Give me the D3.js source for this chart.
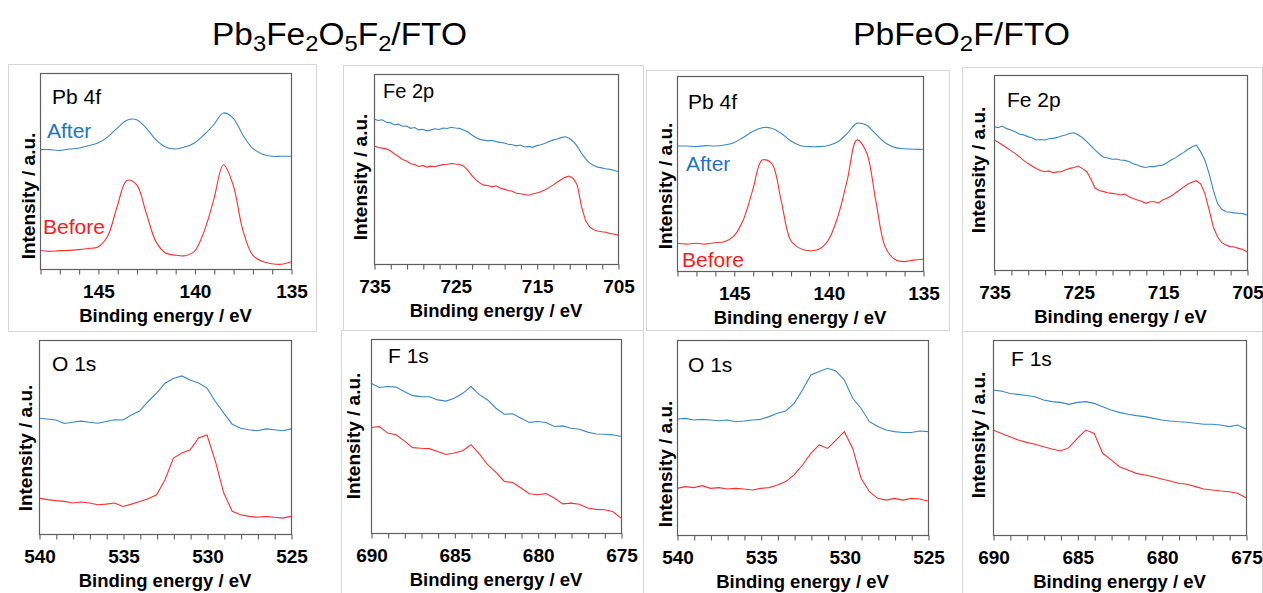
<!DOCTYPE html>
<html>
<head>
<meta charset="utf-8">
<script src="https://cdn.jsdelivr.net/npm/d3@7/dist/d3.min.js"></script>
<style>
  html, body { margin: 0; padding: 0; background: #ffffff; }
  svg { display: block; }
  text { font-family: "Liberation Sans", Arial, Helvetica, sans-serif; }
</style>
</head>
<body>
<svg id="chart" width="1263" height="593"></svg>
<script>
// ---------------- DATA ----------------
const energyPb = [148,147.5,147,146.5,146,145.5,145,144.5,144,143.5,143,142.5,142,141.5,141,140.5,140,139.5,139,138.5,138,137.5,137,136.5,136,135.5,135];
const energyFe = [735,734.5,734,733.5,733,732.5,732,731.5,731,730.5,730,729.5,729,728.5,728,727.5,727,726.5,726,725.5,725,724.5,724,723.5,723,722.5,722,721.5,721,720.5,720,719.5,719,718.5,718,717.5,717,716.5,716,715.5,715,714.5,714,713.5,713,712.5,712,711.5,711,710.5,710,709.5,709,708.5,708,707.5,707,706.5,706,705.5,705];
const energyO = [540,539.5,539,538.5,538,537.5,537,536.5,536,535.5,535,534.5,534,533.5,533,532.5,532,531.5,531,530.5,530,529.5,529,528.5,528,527.5,527,526.5,526,525.5,525];
const energyF = [690,689.5,689,688.5,688,687.5,687,686.5,686,685.5,685,684.5,684,683.5,683,682.5,682,681.5,681,680.5,680,679.5,679,678.5,678,677.5,677,676.5,676,675.5,675];

// Pb3Fe2O5F2/FTO (left)
const pbL_after  = [60.9,60.9,60.5,61.2,61.6,62.9,64.3,67.3,71.9,75.9,76.2,71.9,66.0,62.2,61.2,62.2,64.3,68.5,73.6,79.6,77.0,68.5,61.7,58.7,57.5,57.5,57.5];
const pbL_before = [9.4,9.0,9.4,9.5,9.9,10.5,11.2,16.7,32.0,45.2,43.0,28.6,14.1,8.2,7.1,6.8,9.0,19.2,35.4,53.2,43.0,20.1,7.3,3.9,2.7,2.4,3.7];
const feL_after  = [76.3,75.5,75.9,74.6,74.4,73.2,73.6,72.5,72.6,71.4,71.8,70.6,70.9,70.1,70.6,71.2,70.8,71.6,71.3,72.0,71.6,71.4,70.5,69.6,68.0,66.6,65.6,65.2,64.8,65.1,64.4,64.0,63.7,63.0,62.8,62.2,62.6,61.6,61.9,61.4,62.3,62.8,63.4,64.5,65.2,65.8,66.5,67.0,66.2,64.5,61.9,58.4,55.5,53.2,51.9,51.0,50.6,50.1,49.8,49.3,48.7];
const feL_before = [62.2,61.3,61.0,60.6,59.6,58.0,56.6,55.0,54.2,52.8,52.4,51.3,51.9,51.0,51.5,51.2,51.9,52.3,52.5,52.9,52.6,52.4,51.6,49.5,46.8,44.4,42.7,41.5,41.3,40.6,41.2,40.0,39.4,38.7,38.3,37.2,37.0,36.6,36.2,36.8,37.4,38.0,39.0,40.2,41.5,43.0,44.3,45.6,46.3,45.0,41.5,30.5,23.0,19.5,18.0,17.4,17.0,16.7,16.0,15.8,15.2];
const oL_after   = [59.7,59.3,58.8,57.0,57.6,58.2,57.6,57.1,58.0,58.9,58.8,61.3,63.5,68.3,72.6,77.7,80.2,81.5,79.4,77.8,75.2,68.3,62.3,56.6,54.5,53.7,53.2,54.2,53.7,53.2,54.2];
const oL_before  = [18.5,17.7,17.2,16.8,16.0,16.5,16.0,15.1,15.4,16.0,14.2,15.4,16.8,18.2,20.2,28.0,39.1,41.7,43.4,49.5,51.0,37.4,21.1,11.7,9.9,9.1,8.6,9.1,8.6,8.2,9.1];
const fL_after   = [77.2,75.0,75.5,75.2,72.9,70.8,70.3,70.2,68.6,68.0,69.5,72.0,75.5,71.3,68.6,64.3,61.2,61.5,59.2,57.0,57.5,57.0,54.9,55.2,54.0,53.5,52.0,51.0,50.9,50.6,49.7];
const fL_before  = [54.4,54.8,51.5,50.6,47.5,44.0,43.7,43.5,42.0,40.5,41.2,42.4,45.5,40.8,35.2,31.2,26.6,26.0,23.2,20.2,19.7,20.3,18.0,15.0,15.4,14.8,12.9,12.2,12.0,11.1,7.7];

// PbFeO2F/FTO (right)
const pbR_after  = [64.1,64.1,63.8,64.3,64.1,64.6,65.8,68.5,71.5,73.5,73.2,70.6,66.8,64.4,63.8,63.8,64.4,66.3,70.6,75.7,74.9,70.3,65.8,63.4,62.7,62.4,62.4];
const pbR_before = [14.2,13.8,14.2,13.8,14.5,15.0,17.9,26.2,41.5,56.9,55.2,36.4,15.9,11.6,10.4,11.1,15.9,27.9,46.7,67.2,61.2,36.4,12.5,6.0,4.8,5.6,6.0];
const feR_after  = [73.5,73.0,73.8,72.5,71.8,70.9,69.7,69.3,68.4,67.8,66.7,66.9,66.7,67.3,67.5,68.0,68.7,69.2,70.1,70.4,69.2,67.8,65.8,63.6,61.5,59.5,57.8,57.4,56.8,56.9,56.4,56.2,55.6,54.5,53.8,53.0,52.6,53.1,53.0,53.6,53.8,55.0,56.4,57.5,59.0,60.3,61.9,63.2,64.0,60.7,56.4,49.6,41.0,34.2,31.1,29.9,29.6,29.3,29.1,28.9,28.2];
const feR_before = [66.7,65.5,64.1,62.7,61.2,59.8,58.1,56.2,54.7,53.3,52.1,51.0,50.4,50.8,49.9,50.3,50.4,51.4,52.1,52.6,53.3,52.0,50.4,46.5,41.9,40.8,40.2,39.6,39.3,39.0,38.5,38.9,37.6,36.7,35.9,35.3,34.2,35.0,35.0,34.4,35.9,36.8,37.9,39.5,41.0,42.6,44.1,45.0,45.8,44.2,39.3,31.0,22.2,17.0,14.0,12.8,12.0,11.8,11.1,10.5,9.4];
const oR_after   = [59.5,59.8,59.0,59.3,59.0,58.6,59.0,58.1,58.5,59.0,59.3,60.7,62.4,63.6,67.5,74.4,82.1,83.8,85.5,84.1,79.5,70.1,65.0,58.1,55.6,53.8,53.0,52.6,52.6,53.3,53.0];
const oR_before  = [23.9,24.8,24.3,25.3,23.9,24.3,23.6,23.9,23.6,23.1,23.9,24.3,25.6,27.4,30.8,35.9,41.9,46.2,44.4,48.7,53.0,44.4,29.1,22.2,18.8,17.9,18.8,17.9,18.8,18.5,17.4];
const fR_after   = [74.4,73.8,72.6,72.1,71.5,70.9,69.2,68.4,68.0,67.0,68.0,68.4,67.5,65.8,64.1,62.9,61.9,61.2,60.7,59.8,59.0,58.5,58.1,57.8,57.3,56.8,56.8,56.4,55.6,56.4,54.4];
const fR_before  = [53.8,52.1,50.4,48.7,47.5,46.5,45.3,44.1,43.1,44.8,49.6,53.8,52.1,41.9,38.5,35.0,33.3,31.6,30.8,29.9,28.7,27.7,26.5,26.0,24.8,23.6,23.1,22.6,22.2,21.4,19.1];

// Tick values and labels
const ticksPbMinor = [148,147,146,145,144,143,142,141,140,139,138,137,136,135];
const ticksPbMajor = [145,140,135];
const ticksFeMinor = [735,733,731,729,727,725,723,721,719,717,715,713,711,709,707,705];
const ticksFeMajor = [735,725,715,705];
const ticksOMinor  = [540,539,538,537,536,535,534,533,532,531,530,529,528,527,526,525];
const ticksOMajor  = [540,535,530,525];
const ticksFMinor  = [690,689,688,687,686,685,684,683,682,681,680,679,678,677,676,675];
const ticksFMajor  = [690,685,680,675];

const panelNames = ["Pb 4f", "Fe 2p", "O 1s", "F 1s"];
const seriesNames = ["After", "Before"];
const xAxisTitle = "Binding energy / eV";
const yAxisTitle = "Intensity / a.u.";

// ---------------- STYLE / LAYOUT ----------------
const BLUE = "#3987cc";
const RED = "#ff3030";
const BLUE_TEXT = "#1f74c4";
const RED_TEXT = "#ff1a1a";

const svg = d3.select("#chart");

// light frames (slide picture borders)
const frames = [
  [8, 64, 316, 331],
  [343, 65, 643, 330],
  [646, 70, 949, 330],
  [962, 67, 1262, 331],
  [341, 330, 643, 593],
  [962, 331, 1262, 593]
];
svg.selectAll("rect.frame").data(frames).enter().append("rect")
  .attr("class", "frame")
  .attr("x", d => d[0] + 0.5).attr("y", d => d[1] + 0.5)
  .attr("width", d => d[2] - d[0]).attr("height", d => d[3] - d[1])
  .attr("fill", "none").attr("stroke", "#d6d6d6").attr("stroke-width", 1);

// Titles
function title(x, y, parts, len) {
  const t = svg.append("text").attr("x", x).attr("y", y)
    .attr("font-size", 31).attr("fill", "#000")
    .attr("textLength", len).attr("lengthAdjust", "spacingAndGlyphs");
  let prevSub = false;
  parts.forEach(p => {
    const sub = p[1];
    const ts = t.append("tspan").text(p[0]);
    if (sub) ts.attr("font-size", 22).attr("dy", prevSub ? 0 : 6);
    else if (prevSub) ts.attr("dy", -6);
    prevSub = sub;
  });
}
title(212, 45, [["Pb",0],["3",1],["Fe",0],["2",1],["O",0],["5",1],["F",0],["2",1],["/FTO",0]], 255);
title(853, 45, [["PbFeO",0],["2",1],["F/FTO",0]], 217);

const panels = [
  { box:[40,73,291,269], E:energyPb, dom:[148,135], minor:ticksPbMinor, major:ticksPbMajor, after:pbL_after, before:pbL_before,
    name:panelNames[0], nameAt:[52,104], nameSize:21, afterAt:[47,138], beforeAt:[43,234], yl:[35,196], curve:d3.curveCatmullRom },
  { box:[374,74,618,264], E:energyFe, dom:[735,705], minor:ticksFeMinor, major:ticksFeMajor, after:feL_after, before:feL_before,
    name:panelNames[1], nameAt:[383,98], nameSize:20, yl:[367,177], curve:d3.curveLinear },
  { box:[677,76,923,271], E:energyPb, dom:[148,135], minor:ticksPbMinor, major:ticksPbMajor, after:pbR_after, before:pbR_before,
    name:panelNames[0], nameAt:[688,109], nameSize:21, afterAt:[686,171], beforeAt:[682,267], yl:[672,186], curve:d3.curveCatmullRom },
  { box:[994,75,1247,270], E:energyFe, dom:[735,705], minor:ticksFeMinor, major:ticksFeMajor, after:feR_after, before:feR_before,
    name:panelNames[1], nameAt:[1007,107], nameSize:21, yl:[985,170], curve:d3.curveLinear },
  { box:[39,340,291,534], E:energyO, dom:[540,525], minor:ticksOMinor, major:ticksOMajor, after:oL_after, before:oL_before,
    name:panelNames[2], nameAt:[52,371], nameSize:21, yl:[32,448], curve:d3.curveLinear },
  { box:[371,339,621,533], E:energyF, dom:[690,675], minor:ticksFMinor, major:ticksFMajor, after:fL_after, before:fL_before,
    name:panelNames[3], nameAt:[388,363], nameSize:21, yl:[360,436], curve:d3.curveLinear },
  { box:[677,340,928,535], E:energyO, dom:[540,525], minor:ticksOMinor, major:ticksOMajor, after:oR_after, before:oR_before,
    name:panelNames[2], nameAt:[688,372], nameSize:21, yl:[672,464], curve:d3.curveLinear },
  { box:[993,340,1246,535], E:energyF, dom:[690,675], minor:ticksFMinor, major:ticksFMajor, after:fR_after, before:fR_before,
    name:panelNames[3], nameAt:[1011,366], nameSize:21, yl:[985,435], curve:d3.curveLinear }
];

panels.forEach(p => {
  const [x0, y0, x1, y1] = p.box;
  const x = d3.scaleLinear().domain(p.dom).range([x0, x1]);
  const y = d3.scaleLinear().domain([0, 100]).range([y1, y0]);
  const g = svg.append("g");

  const line = d3.line().x(d => x(d[0])).y(d => y(d[1])).curve(p.curve);
  const afterPts = p.E.map((e, i) => [e, p.after[i]]);
  const beforePts = p.E.map((e, i) => [e, p.before[i]]);
  g.append("path").datum(afterPts).attr("d", line)
    .attr("fill", "none").attr("stroke", BLUE).attr("stroke-width", 1.1);
  g.append("path").datum(beforePts).attr("d", line)
    .attr("fill", "none").attr("stroke", RED).attr("stroke-width", 1.1);

  // frame box
  g.append("rect").attr("x", x0 + 0.5).attr("y", y0 + 0.5)
    .attr("width", x1 - x0).attr("height", y1 - y0)
    .attr("fill", "none").attr("stroke", "#5f5f5f").attr("stroke-width", 1.2);

  // x axis
  const axis = d3.axisBottom(x).tickValues(p.minor).tickSizeInner(5).tickSizeOuter(0)
    .tickFormat(d => p.major.includes(d) ? String(d) : "");
  const ax = g.append("g").attr("transform", `translate(0.5,${y1 + 0.5})`).call(axis);
  ax.select(".domain").remove();
  ax.selectAll(".tick line").attr("stroke", "#5f5f5f").attr("stroke-width", 1.1);
  ax.selectAll(".tick text").attr("y", 0).attr("dy", 0)
    .attr("transform", "translate(0,28)")
    .attr("font-family", "'Liberation Sans', Arial, sans-serif")
    .attr("font-size", 19).attr("font-weight", "bold").attr("fill", "#000");

  // x axis title
  g.append("text").attr("x", (x0 + x1) / 2).attr("y", y1 + 53)
    .attr("text-anchor", "middle").attr("font-size", 18.5).attr("font-weight", "bold")
    .attr("fill", "#000").text(xAxisTitle);

  // y axis title
  g.append("text").attr("transform", `translate(${p.yl[0]},${p.yl[1]}) rotate(-90)`)
    .attr("text-anchor", "middle").attr("font-size", 19).attr("font-weight", "bold")
    .attr("fill", "#000").text(yAxisTitle);

  // panel name
  g.append("text").attr("x", p.nameAt[0]).attr("y", p.nameAt[1])
    .attr("font-size", p.nameSize).attr("fill", "#000").text(p.name);

  if (p.afterAt) {
    g.append("text").attr("x", p.afterAt[0]).attr("y", p.afterAt[1])
      .attr("font-size", 21).attr("fill", BLUE_TEXT).text(seriesNames[0]);
    g.append("text").attr("x", p.beforeAt[0]).attr("y", p.beforeAt[1])
      .attr("font-size", 21).attr("fill", RED_TEXT).text(seriesNames[1]);
  }
});
</script>
</body>
</html>
